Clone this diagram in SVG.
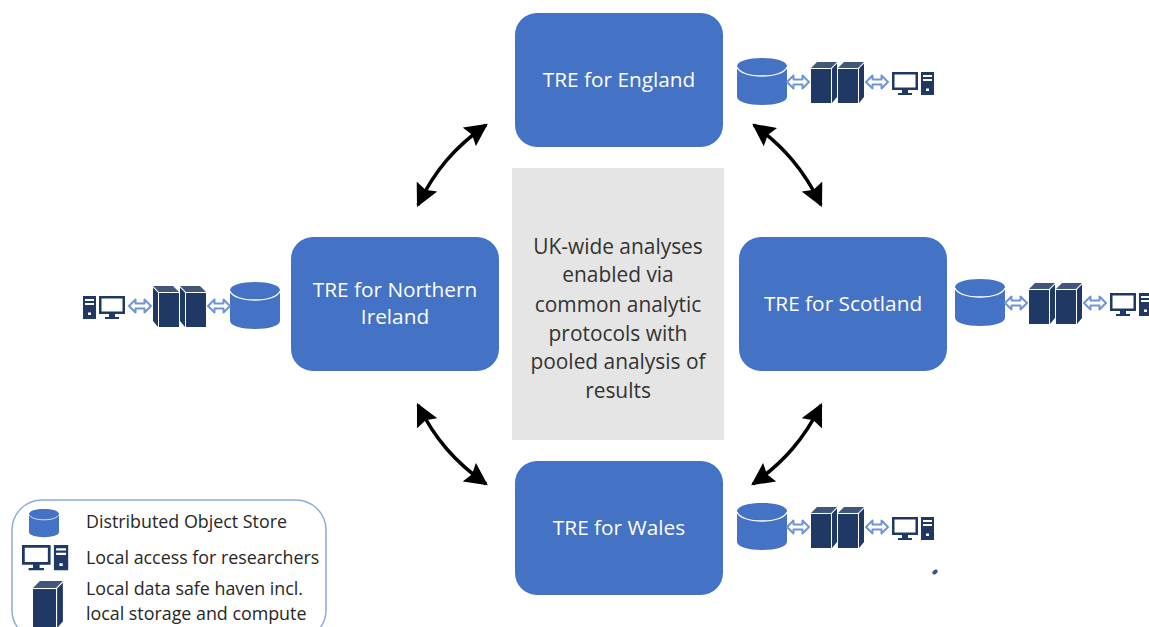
<svg xmlns="http://www.w3.org/2000/svg" xmlns:xlink="http://www.w3.org/1999/xlink" width="1149" height="627" viewBox="0 0 1149 627">
<style>
text{font-family:"Open Sans","Noto Sans",sans-serif}
.tre{fill:#4472c4}
.tl{fill:#fff;font-size:20.800px;text-anchor:middle}
.cl{fill:#333;font-size:20.900px;text-anchor:middle}
.lg{fill:#262626;font-size:17.850px}
.conn{fill:none;stroke:#000;stroke-width:3.500;marker-start:url(#ah);marker-end:url(#ah)}
.dk{fill:#1f3864}
.cyl{fill:#4472c4}
.ln{fill:none;stroke:#fff;stroke-width:1.300}
.da{fill:#fff;stroke:#6f94d8;stroke-width:2;stroke-linejoin:round}
</style>
<defs>
<marker id="ah" viewBox="0 0 10 10" refX="9" refY="5" markerWidth="6.500" markerHeight="6.500" markerUnits="strokeWidth" orient="auto-start-reverse"><path d="M0 0L10 5L0 10L1.500 5Z" fill="#000"/></marker>
<g id="cylinder"><path class="cyl" d="M0 8.500C0 3 11 0 25 0S50 3 50 8.500V38.500C50 44 39 47 25 47S0 44 0 38.500Z"/><path class="ln" d="M0 9C2 15 13 18 25 18S48 15 50 9"/></g>
<g id="server"><path class="dk" d="M0 6L6 0H26L20 6Z" opacity=".85"/><rect class="dk" y="7" width="20" height="34"/><path class="dk" d="M21 6.500L26 1.500V35L21 41Z"/></g>
<g id="pc"><path class="dk" d="M0 0H26V18H16V21H20V23H6V21H10V18H0ZM2.500 2.500V15.500H23.500V2.500Z" fill-rule="evenodd"/><path class="dk" fill-rule="evenodd" d="M29 0H42V23H29ZM31 3V5H40V3ZM31 7V9H40V7ZM34 16.500V19H37V16.500Z"/></g>
<path id="darrow" class="da" d="M0 7L6.500 0.500V4.500H15.500V0.500L22 7L15.500 13.500V9.500H6.500V13.500Z"/>
<g id="stack">
<use href="#cylinder"/>
<use href="#darrow" x="50" y="17"/>
<use href="#server" x="74" y="4"/>
<use href="#server" x="101" y="4"/>
<use href="#darrow" x="129" y="17"/>
<use href="#pc" x="155" y="14"/>
</g>
</defs>
<rect width="1149" height="627" fill="#fff"/>
<g id="center"><rect x="512" y="168" width="212" height="272" fill="#e5e5e5"/>
<text class="cl" x="618" y="254">UK-wide analyses</text>
<text class="cl" x="618" y="282">enabled via</text>
<text class="cl" x="618" y="312">common analytic</text>
<text class="cl" x="618" y="341">protocols with</text>
<text class="cl" x="618" y="369">pooled analysis of</text>
<text class="cl" x="618" y="398">results</text></g>
<g id="tre-england"><rect class="tre" x="515" y="13" width="208" height="134" rx="22"/><text class="tl" x="619" y="87">TRE for England</text></g>
<g id="tre-scotland"><rect class="tre" x="739" y="237" width="208" height="134" rx="22"/><text class="tl" x="843" y="311">TRE for Scotland</text></g>
<g id="tre-ni"><rect class="tre" x="291" y="237" width="208" height="134" rx="22"/><text class="tl" x="395" y="297">TRE for Northern</text><text class="tl" x="395" y="324">Ireland</text></g>
<g id="tre-wales"><rect class="tre" x="515" y="461" width="208" height="134" rx="22"/><text class="tl" x="619" y="535">TRE for Wales</text></g>
<g id="connectors">
<path class="conn" d="M418 205C435 170 455 147 486 125"/>
<path class="conn" d="M754 125C784 147 804 170 821 205"/>
<path class="conn" d="M821 405C804 439 784 462 753 484"/>
<path class="conn" d="M418 405C435 439 455 462 486 484"/>
</g>
<g id="stack-england"><use href="#stack" x="737" y="58"/></g>
<g id="stack-wales"><use href="#stack" x="737" y="503"/></g>
<g id="stack-scotland"><use href="#stack" x="955" y="279"/></g>
<g id="stack-ni"><use href="#stack" transform="translate(280 282) scale(-1 1)"/></g>
<ellipse cx="935" cy="572" rx="3" ry="2" fill="#2f5597" transform="rotate(-35 935 572)"/>
<g id="legend">
<rect x="12" y="500" width="314" height="140" rx="30" fill="#fff" stroke="#8faadc" stroke-width="1.500"/>
<use href="#cylinder" transform="translate(29 509) scale(.6)"/>
<text class="lg" x="86" y="528">Distributed Object Store</text>
<use href="#pc" transform="translate(22 545) scale(1.100)"/>
<text class="lg" x="86" y="564">Local access for researchers</text>
<use href="#server" transform="translate(33 581) scale(1.150)"/>
<text class="lg" x="86" y="595">Local data safe haven incl.</text>
<text class="lg" x="86" y="620">local storage and compute</text>
</g>
</svg>
